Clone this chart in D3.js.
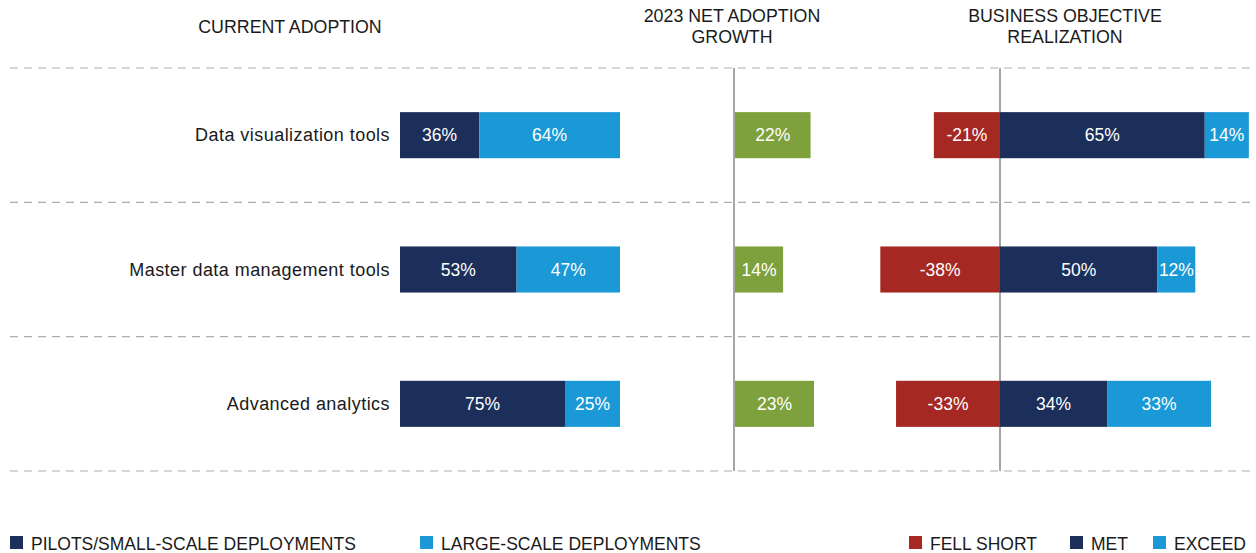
<!DOCTYPE html>
<html><head><meta charset="utf-8">
<script src="https://cdn.jsdelivr.net/npm/d3@7"></script>
<style>
body{margin:0;background:#fff;}
svg{display:block;font-family:"Liberation Sans",Arial,sans-serif;}
</style></head><body>
<svg id="c" width="1256" height="553"></svg>
<script>
const categories = ["Data visualization tools","Master data management tools","Advanced analytics"];
const pilots = [36,53,75];
const largeScale = [64,47,25];
const netGrowth = [22,14,23];
const fellShort = [-21,-38,-33];
const met = [65,50,34];
const exceed = [14,12,33];
const headers = [["CURRENT ADOPTION"],["2023 NET ADOPTION","GROWTH"],["BUSINESS OBJECTIVE","REALIZATION"]];

const C = {navy:"#1b2f5a", blue:"#1a99d6", green:"#7fa13d", red:"#a52822", grid:"#a9aeb2", axis:"#a3a7ab", text:"#1a1a1a"};
const svg = d3.select("#c");

const y = d3.scaleBand().domain(categories).range([68,471]).paddingInner(0.657).paddingOuter(0.3285);
const xCur = d3.scaleLinear().domain([0,100]).range([400,620]);
const xGrow = d3.scaleLinear().domain([0,23]).range([735,814]);
const xBiz = d3.scaleLinear().domain([-40,80]).range([874,1252]);

// dashed grid lines
const step = y.step();
const bounds = d3.range(categories.length+1).map(i => 68 + i*step);
svg.selectAll("line.grid").data(bounds).join("line")
  .attr("x1",10).attr("x2",1256).attr("y1",d=>d).attr("y2",d=>d)
  .attr("stroke",C.grid).attr("stroke-width",1.2).attr("stroke-dasharray","8,6");

// vertical axes
[xGrow(0)-1, xBiz(0)].forEach(x=>{
  svg.append("line").attr("x1",x).attr("x2",x).attr("y1",68).attr("y2",471)
    .attr("stroke",C.axis).attr("stroke-width",2);
});

// headers
const hx = [290, 732, 1065];
headers.forEach((lines,i)=>{
  const y0 = lines.length === 1 ? 33 : 22;
  lines.forEach((t,j)=>{
    svg.append("text").attr("x",hx[i]).attr("y",y0+j*21).attr("text-anchor","middle")
      .attr("font-size",17.8).attr("fill",C.text).text(t);
  });
});

// category labels
svg.selectAll("text.cat").data(categories).join("text")
  .attr("x",390).attr("y",d=>y(d)+y.bandwidth()/2+6.3).attr("text-anchor","end")
  .attr("font-size",18).attr("letter-spacing",0.45).attr("fill",C.text).text(d=>d);

function seg(x0,x1,yy,color,label){
  const g = svg.append("g");
  g.append("rect").attr("x",Math.min(x0,x1)).attr("width",Math.abs(x1-x0))
    .attr("y",yy).attr("height",y.bandwidth()).attr("fill",color);
  g.append("text").attr("x",(x0+x1)/2).attr("y",yy+y.bandwidth()/2+6.3)
    .attr("text-anchor","middle").attr("font-size",17.5).attr("fill","#fff").text(label);
}

categories.forEach((c,i)=>{
  const yy = y(c);
  seg(xCur(0), xCur(pilots[i]), yy, C.navy, pilots[i]+"%");
  seg(xCur(pilots[i]), xCur(pilots[i]+largeScale[i]), yy, C.blue, largeScale[i]+"%");
  seg(xGrow(0), xGrow(netGrowth[i]), yy, C.green, netGrowth[i]+"%");
  seg(xBiz(fellShort[i]), xBiz(0), yy, C.red, fellShort[i]+"%");
  seg(xBiz(0), xBiz(met[i]), yy, C.navy, met[i]+"%");
  seg(xBiz(met[i]), xBiz(met[i]+exceed[i]), yy, C.blue, exceed[i]+"%");
});

// legends
const legend = [
  {x:10, label:"PILOTS/SMALL-SCALE DEPLOYMENTS", color:C.navy},
  {x:420, label:"LARGE-SCALE DEPLOYMENTS", color:C.blue},
  {x:909, label:"FELL SHORT", color:C.red},
  {x:1070, label:"MET", color:C.navy},
  {x:1153, label:"EXCEED", color:C.blue}
];
const lg = svg.selectAll("g.lg").data(legend).join("g").attr("transform",d=>`translate(${d.x},536)`);
lg.append("rect").attr("width",13).attr("height",13).attr("fill",d=>d.color);
lg.append("text").attr("x",21).attr("y",13.5).attr("font-size",17.5).attr("fill",C.text).text(d=>d.label);
</script>
</body></html>
